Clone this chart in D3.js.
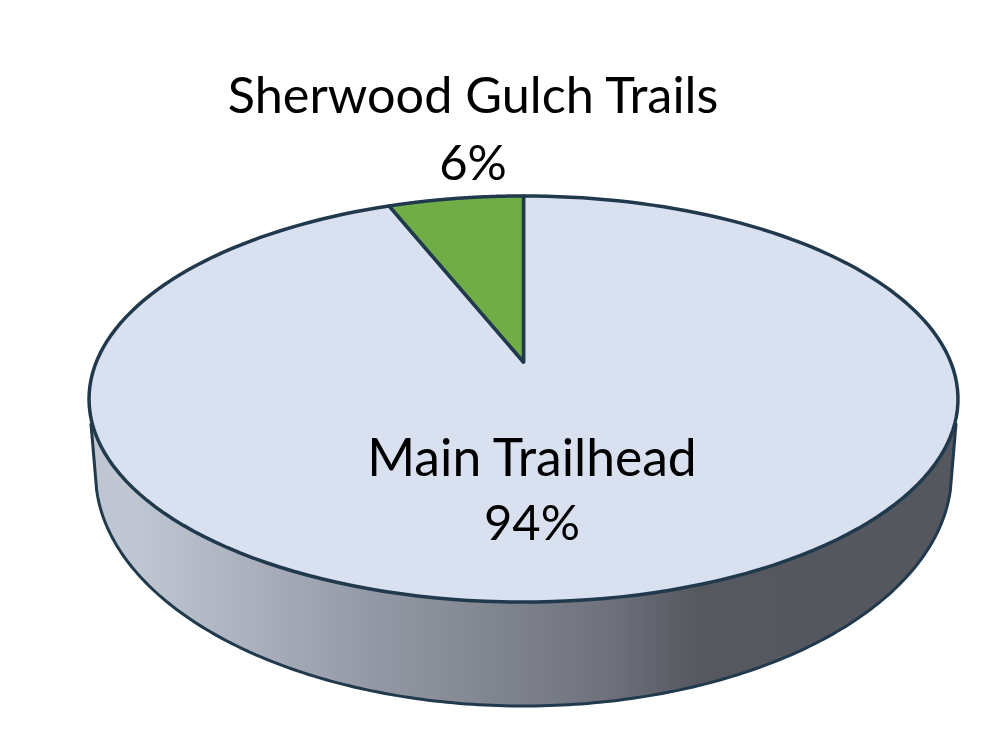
<!DOCTYPE html>
<html><head><meta charset="utf-8">
<script src="https://cdn.jsdelivr.net/npm/d3@7"></script>
<style>html,body{margin:0;background:#fff}svg{display:block}text{font-family:Lato,"Open Sans",sans-serif;fill:#000}</style>
</head><body>
<script>
const categories = ["Main Trailhead", "Sherwood Gulch Trails"];
const shares = [94, 6];
const sliceColors = ["#d9e0ef", "#70ad47"];

const W = 1000, H = 750;
const svg = d3.select("body").append("svg").attr("width", W).attr("height", H);
const outline = "#21394d";

// perspective projection of the unit disc onto the tilted pie top
const cx = 523.5, apexY = 362, k = 0.1823, by = -130.3, c = 427.2;
const project = (a, r = 1) => {
  const u = r * Math.sin(a), v = r * Math.cos(a), w = 1 + k * v;
  return [cx + c * u / w, (apexY + by * v) / w];
};
const line = d3.line();
const arcPts = (a0, a1) => d3.range(0, 181).map(i => project(a0 + (a1 - a0) * i / 180));

// side wall: the rim of the pie's underside, joined to the top by short straight edges
const lower = { rx: 428, ry: 233, cy: 473, joinY: 490 };
const t0 = Math.asin((lower.joinY - lower.cy) / lower.ry);
const lowerPts = d3.range(0, 201).map(i => {
  const t = (Math.PI - t0) + (t0 - (Math.PI - t0)) * i / 200;
  return [cx + lower.rx * Math.cos(t), lower.cy + lower.ry * Math.sin(t)];
});
const sidePts = [[91, 424], ...lowerPts, [956, 424]];

const grad = svg.append("defs").append("linearGradient").attr("id", "side")
  .attr("gradientUnits", "userSpaceOnUse").attr("x1", 90).attr("x2", 958).attr("y1", 0).attr("y2", 0);
[[0, "#bfc6d2"], [0.05, "#bfc7d3"], [0.18, "#abb2be"], [0.31, "#959ba7"], [0.5, "#7c808a"], [0.6, "#6e717b"], [0.7, "#55585f"], [1, "#54575e"]]
  .forEach(([o, col]) => grad.append("stop").attr("offset", o).attr("stop-color", col));

svg.append("path").attr("d", line(sidePts) + "Z").attr("fill", "url(#side)")
  .attr("stroke", outline).attr("stroke-width", 3).attr("stroke-linejoin", "round");

// top slices
const pie = d3.pie().sort(null).value(d => d)(shares);
svg.selectAll("path.slice").data(pie).join("path").attr("class", "slice")
  .attr("d", d => line([project(0, 0), ...arcPts(d.startAngle, d.endAngle)]) + "Z")
  .attr("fill", (d, i) => sliceColors[i])
  .attr("stroke", outline).attr("stroke-width", 3.5).attr("stroke-linejoin", "round");

// labels
const labelPos = [{ x: 532, y1: 476, y2: 540, size: 51.6 }, { x: 473, y1: 113, y2: 180, size: 50.4 }];
const labels = svg.selectAll("g.lab").data(pie).join("g").attr("class", "lab");
labels.append("text").attr("text-anchor", "middle").attr("font-size", (d, i) => labelPos[i].size)
  .attr("x", (d, i) => labelPos[i].x).attr("y", (d, i) => labelPos[i].y1)
  .text((d, i) => categories[i]);
labels.append("text").attr("text-anchor", "middle").attr("font-size", 49)
  .attr("x", (d, i) => labelPos[i].x).attr("y", (d, i) => labelPos[i].y2)
  .text(d => d.data + "%");
</script>
</body></html>
